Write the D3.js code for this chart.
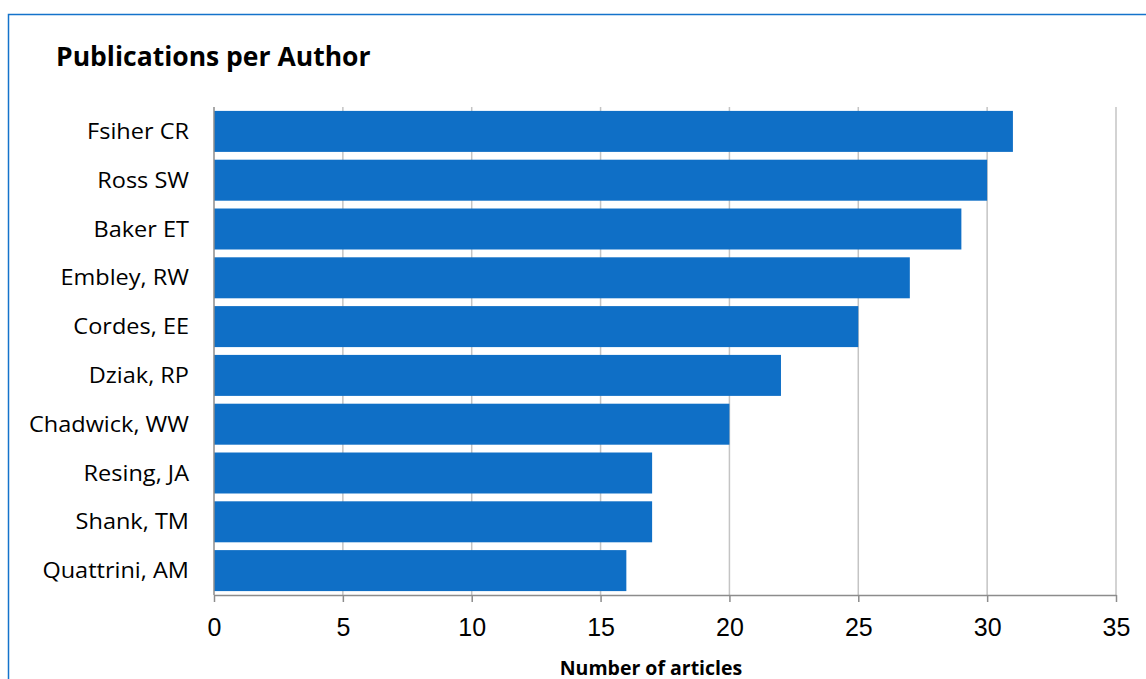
<!DOCTYPE html>
<html><head><meta charset="utf-8">
<script src="https://cdn.jsdelivr.net/npm/d3@7"></script>
<style>body{margin:0;background:#fff;}svg{display:block;}</style>
</head><body>
<svg id="c" width="1146" height="679"></svg>
<script>
const authors = ["Fsiher CR","Ross SW","Baker ET","Embley, RW","Cordes, EE","Dziak, RP","Chadwick, WW","Resing, JA","Shank, TM","Quattrini, AM"];
const articles = [31,30,29,27,25,22,20,17,17,16];
const xTicks = [0,5,10,15,20,25,30,35];

const svg = d3.select("#c");
const m = {left:214, right:1116, top:107, bottom:595};

svg.append("rect").attr("x",8.5).attr("y",14.5).attr("width",1200).attr("height",700)
  .attr("fill","none").attr("stroke","#1473CB").attr("stroke-width",1.5);

const x = d3.scaleLinear().domain([0,35]).range([m.left,m.right]);
const y = d3.scaleBand().domain(authors).range([m.top,m.bottom]).paddingInner(0.16).paddingOuter(0.08);

// gridlines
svg.append("g").selectAll("line").data(xTicks.slice(1)).join("line")
  .attr("x1",d=>x(d)).attr("x2",d=>x(d)).attr("y1",m.top).attr("y2",m.bottom)
  .attr("stroke","#c4c4c4").attr("stroke-width",1.5);

svg.append("g").selectAll("rect").data(authors).join("rect")
  .attr("x",x(0)).attr("y",d=>y(d)).attr("height",y.bandwidth())
  .attr("width",(d,i)=>x(articles[i])-x(0)).attr("fill","#0F6FC6");

// y axis line
svg.append("line").attr("x1",m.left).attr("x2",m.left).attr("y1",m.top).attr("y2",m.bottom)
  .attr("stroke","#8c8c8c").attr("stroke-width",1.5);

// x axis
const xa = svg.append("g").attr("transform",`translate(0,${m.bottom})`)
  .call(d3.axisBottom(x).tickValues(xTicks).tickSize(7).tickSizeOuter(0).tickPadding(16));
xa.select(".domain").attr("stroke","#8c8c8c").attr("stroke-width",1.5);
xa.selectAll(".tick line").attr("stroke","#8c8c8c").attr("stroke-width",1.5);
xa.selectAll(".tick text").attr("font-family","'Liberation Sans', Arial, sans-serif").attr("font-size",25).attr("fill","#000");

// y labels
svg.append("g").selectAll("g").data(authors).join("g")
  .attr("transform",d=>`translate(189,${y(d)+y.bandwidth()/2+7.5}) scale(1.12,1)`)
  .append("text")
  .attr("text-anchor","end").attr("font-family","'Open Sans', sans-serif").attr("font-size",21)
  .attr("fill","#000").text(d=>d);

svg.append("text").attr("x",56).attr("y",65.5).attr("font-family","'Open Sans', sans-serif")
  .attr("font-weight","bold").attr("font-size",26.5).attr("fill","#000").text("Publications per Author");

svg.append("text").attr("x",651).attr("y",674.5).attr("text-anchor","middle").attr("font-family","'Open Sans', sans-serif")
  .attr("font-weight","bold").attr("font-size",19.5).attr("fill","#000").text("Number of articles");
</script>
</body></html>
